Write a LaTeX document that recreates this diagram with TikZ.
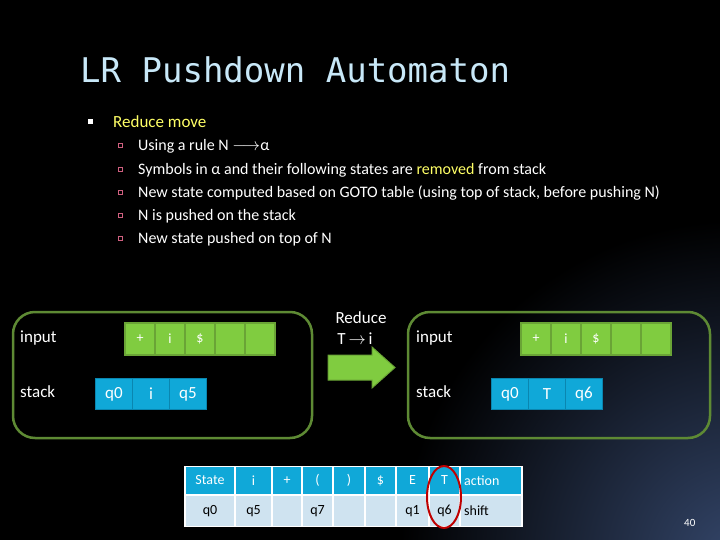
\documentclass[tikz,border=0pt]{standalone}
\usepackage{fontspec}
\setmainfont{Carlito}
\newfontfamily\ttl{DejaVu Sans Mono}
\definecolor{bgblue}{HTML}{34466A}
\definecolor{ttlc}{HTML}{C8E8F8}
\definecolor{yel}{HTML}{FFFF66}
\definecolor{grn}{HTML}{80CC40}
\definecolor{grnd}{HTML}{6AA436}
\definecolor{frm}{HTML}{5E8A34}
\definecolor{cyn}{HTML}{10A8D8}
\definecolor{cynd}{HTML}{0A86B0}
\definecolor{lbl}{HTML}{CFE3F0}
\definecolor{pnk}{HTML}{D06080}
\begin{document}
\begin{tikzpicture}[x=1pt,y=-1pt,
  txt/.style={text=white,font=\fontsize{16}{18}\selectfont,inner sep=0,anchor=west},
  sub/.style={txt,font=\fontsize{16}{18}\selectfont},
  gcell/.style={draw=grnd,line width=1.5pt,fill=grn,text=white,minimum width=30pt,minimum height=32pt,inner sep=0,font=\fontsize{14}{16}\selectfont},
  bcell/.style={draw=cynd,line width=1.5pt,fill=cyn,text=white,minimum width=37pt,minimum height=31pt,inner sep=0,font=\fontsize{17}{19}\selectfont},
  frame/.style={draw=frm,line width=2.5pt,rounded corners=22pt},
  th/.style={fill=cyn,text=white,minimum height=27pt,inner sep=0,font=\fontsize{14}{16}\selectfont},
  td/.style={fill=lbl,text=black,minimum height=30pt,inner sep=0,font=\fontsize{14}{16}\selectfont}]
\useasboundingbox (0,0) rectangle (720,540);
\fill[black] (0,0) rectangle (720,540);
\begin{scope}
\clip (0,0) rectangle (720,540);
\shade[inner color=bgblue,outer color=black] (740,560) circle (340pt);
\end{scope}
\node[anchor=west,inner sep=0,text=ttlc,font=\ttl\fontsize{34}{36}\selectfont] (title) at (80,70) {LR Pushdown Automaton};
\fill[white] (88,119) rectangle (93,124);
\node[txt,text=yel,font=\fontsize{17}{19}\selectfont] (rm) at (113,122) {Reduce move};
\foreach \y/\t [count=\i] in {146/{Using a rule N $\longrightarrow$α},
  170/{Symbols in α and their following states are \textcolor{yel}{removed} from stack},
  193/{New state computed based on GOTO table (using top of stack, before pushing N)},
  216/{N is pushed on the stack},
  239/{New state pushed on top of N}}{
  \draw[pnk,line width=0.8pt] (118.5,\y-2.5) rectangle (122.5,\y+1.5);
  \node[sub] (s\i) at (138,\y) {\t};
}
% left frame
\draw[frame] (13,312) rectangle (312,438);
\node[txt,font=\fontsize{17}{19}\selectfont] (inL) at (20,338) {input};
\node[txt,font=\fontsize{17}{19}\selectfont] (stL) at (20,392) {stack};
\foreach \t [count=\i] in {+,i,\$,{},{}}
  \node[gcell] (gl\i) at (140+30*\i-30,339) {\t};
\foreach \t [count=\i] in {q0,i,q5}
  \node[bcell] (bl\i) at (114+37*\i-37,394) {\t};
% arrow
\node[txt,anchor=center,font=\fontsize{17}{19}\selectfont] (red1) at (361,318) {Reduce};
\node[txt,anchor=center,font=\fontsize{17}{19}\selectfont] (red2) at (355,339) {T$\,\rightarrow\,$i};
\filldraw[fill=grn,draw=grnd,line width=1pt] (328,355) -- (372,355) -- (372,347) -- (395,367.5) -- (372,388) -- (372,380) -- (328,380) -- cycle;
% right frame
\draw[frame] (408,312) rectangle (710,438);
\node[txt,font=\fontsize{17}{19}\selectfont] (inR) at (416,338) {input};
\node[txt,font=\fontsize{17}{19}\selectfont] (stR) at (416,392) {stack};
\foreach \t [count=\i] in {+,i,\$,{},{}}
  \node[gcell] (gr\i) at (536+30*\i-30,339) {\t};
\foreach \t [count=\i] in {q0,T,q6}
  \node[bcell] (br\i) at (510+37*\i-37,394) {\t};
% table
\fill[white] (184,466) rectangle (523,527);
\foreach \a/\b/\h/\d [count=\i] in {186/234/State/q0,236/271/i/q5,273/301/+/{},303/332/(/q7,334/364/)/{},366/395/\$/{},397/428/E/q1,430/459/T/q6}{
  \node[th,minimum width=\b-\a] (h\i) at ({(\a+\b)/2},480.5) {\h};
  \node[td,minimum width=\b-\a] (d\i) at ({(\a+\b)/2},511) {\d};
}
\node[th,minimum width=60pt,anchor=west,text width=54pt,align=left] (h9) at (461,480.5) {action};
\node[td,minimum width=60pt,anchor=west,text width=54pt,align=left] (d9) at (461,511) {shift};
\draw[red!75!black,line width=2pt] (444,497) ellipse (17pt and 31pt);
\node[txt,font=\fontsize{11}{13}\selectfont] (pg) at (684,523) {40};
\end{tikzpicture}
\end{document}
